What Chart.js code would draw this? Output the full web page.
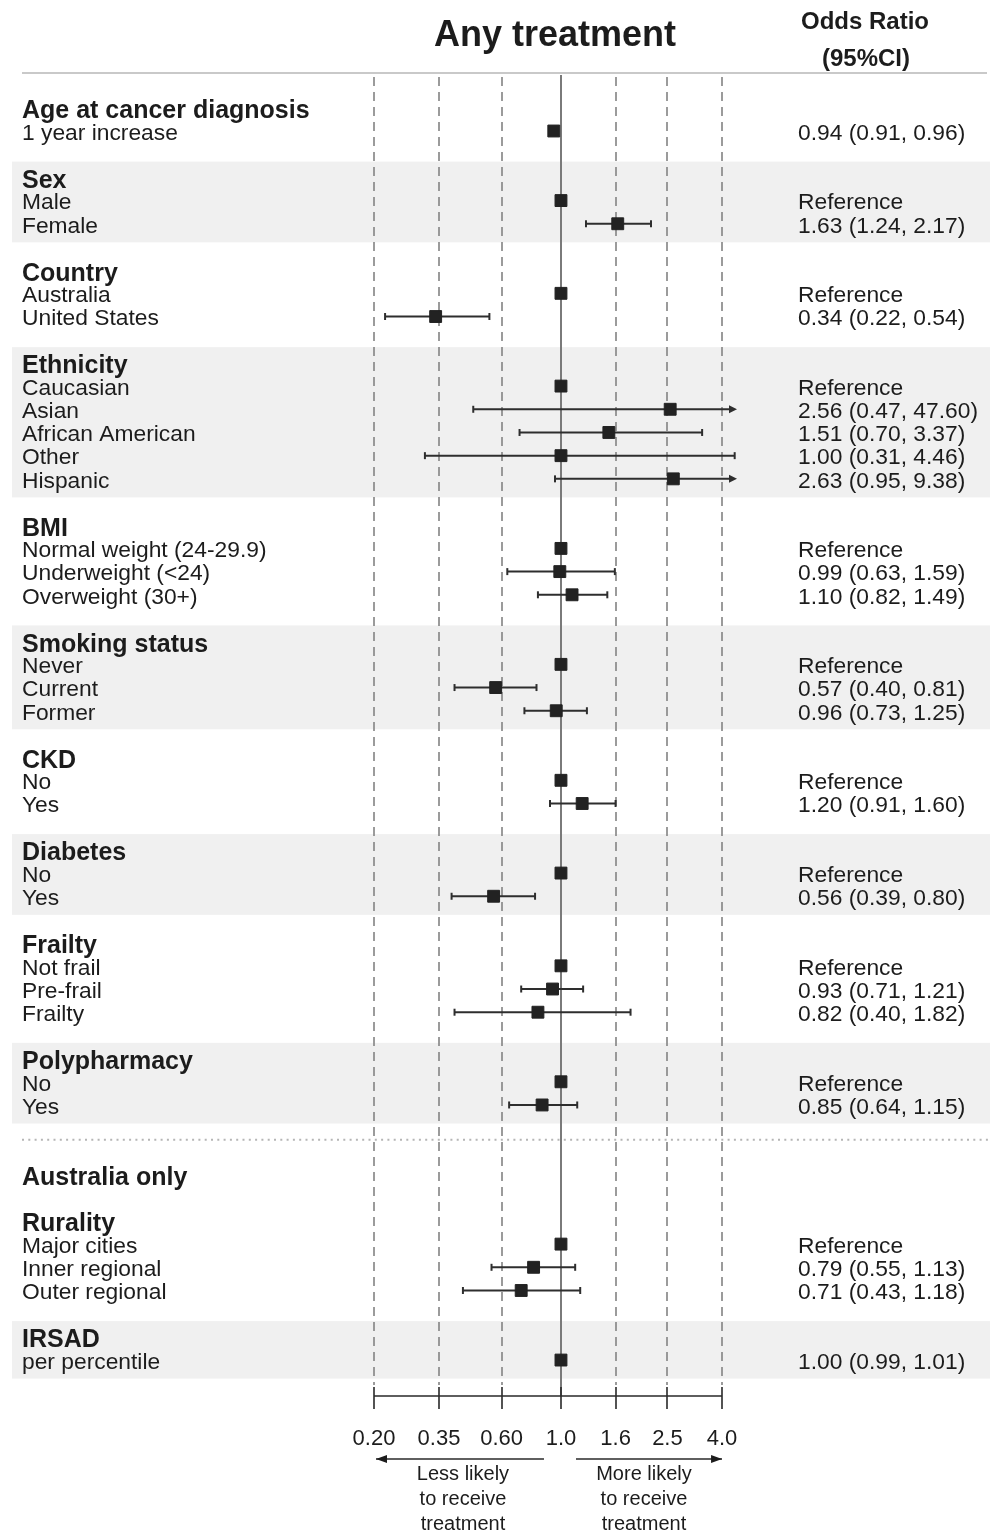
<!DOCTYPE html>
<html>
<head>
<meta charset="utf-8">
<title>Any treatment</title>
<script src="https://cdn.jsdelivr.net/npm/chart.js@4.4.1/dist/chart.umd.min.js"></script>
<style>
  html, body { margin: 0; padding: 0; background: #ffffff; }
  #wrap { width: 990px; height: 1533px; position: relative; }
  canvas { display: block; }
</style>
</head>
<body>
<div id="wrap"><canvas id="forest" width="990" height="1533"></canvas></div>
<script>
// Row layout: one row per line of text, blank rows separate the groups
const headerLabels = ['Age at cancer diagnosis', 'Sex', 'Country', 'Ethnicity', 'BMI', 'Smoking status',
  'CKD', 'Diabetes', 'Frailty', 'Polypharmacy', 'Australia only', 'Rurality', 'IRSAD'];
const headerRows = [0, 3, 7, 11, 18, 23, 28, 32, 36, 41, 46, 48, 53];

const itemLabels = ['1 year increase', 'Male', 'Female', 'Australia', 'United States',
  'Caucasian', 'Asian', 'African American', 'Other', 'Hispanic',
  'Normal weight (24-29.9)', 'Underweight (<24)', 'Overweight (30+)',
  'Never', 'Current', 'Former', 'No', 'Yes', 'No', 'Yes',
  'Not frail', 'Pre-frail', 'Frailty', 'No', 'Yes',
  'Major cities', 'Inner regional', 'Outer regional', 'per percentile'];
const itemRows = [1, 4, 5, 8, 9, 12, 13, 14, 15, 16, 19, 20, 21, 24, 25, 26,
  29, 30, 33, 34, 37, 38, 39, 42, 43, 49, 50, 51, 54];
const isReference = [false, true, false, true, false, true, false, false, false, false,
  true, false, false, true, false, false, true, false, true, false,
  true, false, false, true, false, true, false, false, false];

// Odds ratios with 95% confidence limits
const oddsRatio = [0.94, 1, 1.63, 1, 0.34, 1, 2.56, 1.51, 1.00, 2.63,
  1, 0.99, 1.10, 1, 0.57, 0.96, 1, 1.20, 1, 0.56,
  1, 0.93, 0.82, 1, 0.85, 1, 0.79, 0.71, 1.00];
const ciLower = [0.91, 1, 1.24, 1, 0.22, 1, 0.47, 0.70, 0.31, 0.95,
  1, 0.63, 0.82, 1, 0.40, 0.73, 1, 0.91, 1, 0.39,
  1, 0.71, 0.40, 1, 0.64, 1, 0.55, 0.43, 0.99];
const ciUpper = [0.96, 1, 2.17, 1, 0.54, 1, 47.60, 3.37, 4.46, 9.38,
  1, 1.59, 1.49, 1, 0.81, 1.25, 1, 1.60, 1, 0.80,
  1, 1.21, 1.82, 1, 1.15, 1, 1.13, 1.18, 1.01];

// Shaded groups (first and last row of each)
const shadedGroups = [[3, 5], [11, 16], [23, 26], [32, 34], [41, 43], [53, 54]];
const separatorRow = 44.5;

// Axis
const xTicks = [0.20, 0.35, 0.60, 1.0, 1.6, 2.5, 4.0];
const xTickLabels = ['0.20', '0.35', '0.60', '1.0', '1.6', '2.5', '4.0'];
const X_MIN = 0.2, X_MAX = 4.55;
const Y_MIN = -1.415, Y_MAX = 55.55;

const title = 'Any treatment';
const columnHeader = ['Odds Ratio', '(95%CI)'];
const directionLeft = ['Less likely', 'to receive', 'treatment'];
const directionRight = ['More likely', 'to receive', 'treatment'];

const FONT = "'Liberation Sans', Arial, Helvetica, sans-serif";
const INK = '#1c1c1c';

const estimateLabels = oddsRatio.map((v, i) => isReference[i] ? 'Reference'
  : `${v.toFixed(2)} (${ciLower[i].toFixed(2)}, ${ciUpper[i].toFixed(2)})`);

const forestPlugin = {
  id: 'forestDecor',
  beforeDraw(chart) {
    const { ctx, chartArea, scales } = chart;
    const xs = scales.x, ys = scales.y;
    ctx.save();
    // group bands across the whole width
    ctx.fillStyle = '#f0f0f0';
    shadedGroups.forEach(([a, b]) => {
      const top = ys.getPixelForValue(a - 0.68);
      const bot = ys.getPixelForValue(b + 0.8);
      ctx.fillRect(12, top, 990 - 12, bot - top);
    });
    // rule under the column headers
    ctx.strokeStyle = '#c9c9c9';
    ctx.lineWidth = 2;
    ctx.beginPath();
    ctx.moveTo(22, chartArea.top - 2);
    ctx.lineTo(987, chartArea.top - 2);
    ctx.stroke();
    // dotted separator before the Australia-only block
    const sy = ys.getPixelForValue(separatorRow);
    ctx.fillStyle = '#b5b5b5';
    for (let x = 22; x <= 987; x += 6.3) {
      ctx.fillRect(x, sy - 1, 2, 2);
    }
    // vertical guides at each tick
    const gridBottom = chartArea.bottom - 11;
    xTicks.forEach(v => {
      const px = Math.round(xs.getPixelForValue(v));
      ctx.beginPath();
      if (v === 1) {
        ctx.setLineDash([]);
        ctx.strokeStyle = '#7a7a7a';
        ctx.lineWidth = 2;
        ctx.moveTo(px, chartArea.top);
        ctx.lineTo(px, chartArea.bottom);
      } else {
        ctx.setLineDash([9, 6]);
        ctx.strokeStyle = '#8a8a8a';
        ctx.lineWidth = 1.7;
        ctx.moveTo(px, chartArea.top + 2);
        ctx.lineTo(px, gridBottom);
      }
      ctx.stroke();
    });
    ctx.setLineDash([]);
    ctx.restore();
  },
  beforeDatasetsDraw(chart) {
    const { ctx, scales } = chart;
    const xs = scales.x, ys = scales.y;
    ctx.save();
    ctx.strokeStyle = '#2e2e2e';
    ctx.fillStyle = '#2e2e2e';
    ctx.lineWidth = 2;
    itemRows.forEach((r, i) => {
      if (isReference[i]) return;
      const y = ys.getPixelForValue(r);
      const lo = Math.max(ciLower[i], X_MIN);
      const hi = Math.min(ciUpper[i], X_MAX);
      const x0 = xs.getPixelForValue(lo);
      const x1 = xs.getPixelForValue(hi);
      ctx.beginPath();
      ctx.moveTo(x0, y);
      ctx.lineTo(ciUpper[i] > X_MAX ? x1 - 6 : x1, y);
      ctx.stroke();
      // caps or arrowheads
      const cap = (x) => { ctx.beginPath(); ctx.moveTo(x, y - 3.5); ctx.lineTo(x, y + 3.5); ctx.stroke(); };
      if (ciLower[i] < X_MIN) {
        ctx.beginPath(); ctx.moveTo(x0, y); ctx.lineTo(x0 + 8, y - 4); ctx.lineTo(x0 + 8, y + 4); ctx.closePath(); ctx.fill();
      } else cap(x0);
      if (ciUpper[i] > X_MAX) {
        ctx.beginPath(); ctx.moveTo(x1, y); ctx.lineTo(x1 - 8, y - 4); ctx.lineTo(x1 - 8, y + 4); ctx.closePath(); ctx.fill();
      } else cap(x1);
    });
    ctx.restore();
  },
  afterDraw(chart) {
    const { ctx, chartArea, scales } = chart;
    const xs = scales.x, ys = scales.y;
    ctx.save();
    ctx.fillStyle = INK;
    ctx.textBaseline = 'middle';

    // title and column header
    ctx.textAlign = 'center';
    ctx.font = `bold 36px ${FONT}`;
    ctx.fillText(title, 555, 36);
    ctx.font = `bold 24px ${FONT}`;
    ctx.fillText(columnHeader[0], 865, 22);
    ctx.fillText(columnHeader[1], 866, 59);

    // left labels
    ctx.textAlign = 'left';
    ctx.font = `bold 25px ${FONT}`;
    headerRows.forEach((r, i) => ctx.fillText(headerLabels[i], 22, ys.getPixelForValue(r) + 3.5));
    ctx.font = `22.8px ${FONT}`;
    itemRows.forEach((r, i) => ctx.fillText(itemLabels[i], 22, ys.getPixelForValue(r) + 2.5));

    // right-hand estimates
    itemRows.forEach((r, i) => ctx.fillText(estimateLabels[i], 798, ys.getPixelForValue(r) + 2.5));

    // x axis
    const axisY = chartArea.bottom;
    const xa = xs.getPixelForValue(xTicks[0]);
    const xb = xs.getPixelForValue(xTicks[xTicks.length - 1]);
    ctx.strokeStyle = '#2a2a2a';
    ctx.lineWidth = 1.6;
    ctx.beginPath();
    ctx.moveTo(xa, axisY); ctx.lineTo(xb, axisY);
    xTicks.forEach(v => {
      const px = Math.round(xs.getPixelForValue(v));
      ctx.moveTo(px, axisY - 9); ctx.lineTo(px, axisY + 13);
    });
    ctx.stroke();
    ctx.textAlign = 'center';
    ctx.font = `22px ${FONT}`;
    xTicks.forEach((v, i) => ctx.fillText(xTickLabels[i], xs.getPixelForValue(v), axisY + 43));

    // direction arrows
    const x1 = xs.getPixelForValue(1);
    const ay = axisY + 63;
    const arrow = (from, to) => {
      ctx.beginPath(); ctx.moveTo(from, ay); ctx.lineTo(to, ay); ctx.stroke();
      const d = Math.sign(to - from);
      ctx.beginPath(); ctx.moveTo(to, ay); ctx.lineTo(to - d * 11, ay - 4); ctx.lineTo(to - d * 11, ay + 4); ctx.closePath(); ctx.fill();
    };
    ctx.lineWidth = 1.4;
    arrow(x1 - 17, xa + 2);
    arrow(x1 + 15, xb);
    ctx.font = `20px ${FONT}`;
    directionLeft.forEach((t, i) => ctx.fillText(t, x1 - 98, ay + 15 + i * 25));
    directionRight.forEach((t, i) => ctx.fillText(t, x1 + 83, ay + 15 + i * 25));
    ctx.restore();
  }
};

new Chart(document.getElementById('forest'), {
  type: 'scatter',
  data: {
    datasets: [{
      label: 'Odds ratio',
      data: itemRows.map((r, i) => ({ x: oddsRatio[i], y: r })),
      pointStyle: 'rect',
      pointRadius: 8.4,
      pointHoverRadius: 8.4,
      backgroundColor: '#222222',
      borderColor: '#222222',
      borderWidth: 1
    }]
  },
  options: {
    responsive: false,
    animation: false,
    devicePixelRatio: 1,
    layout: { padding: { left: 374, right: 253, top: 75, bottom: 137 } },
    scales: {
      x: { type: 'logarithmic', min: X_MIN, max: X_MAX, display: false },
      y: { type: 'linear', min: Y_MIN, max: Y_MAX, reverse: true, display: false }
    },
    plugins: { legend: { display: false }, tooltip: { enabled: false }, title: { display: false } }
  },
  plugins: [forestPlugin]
});
</script>
</body>
</html>
